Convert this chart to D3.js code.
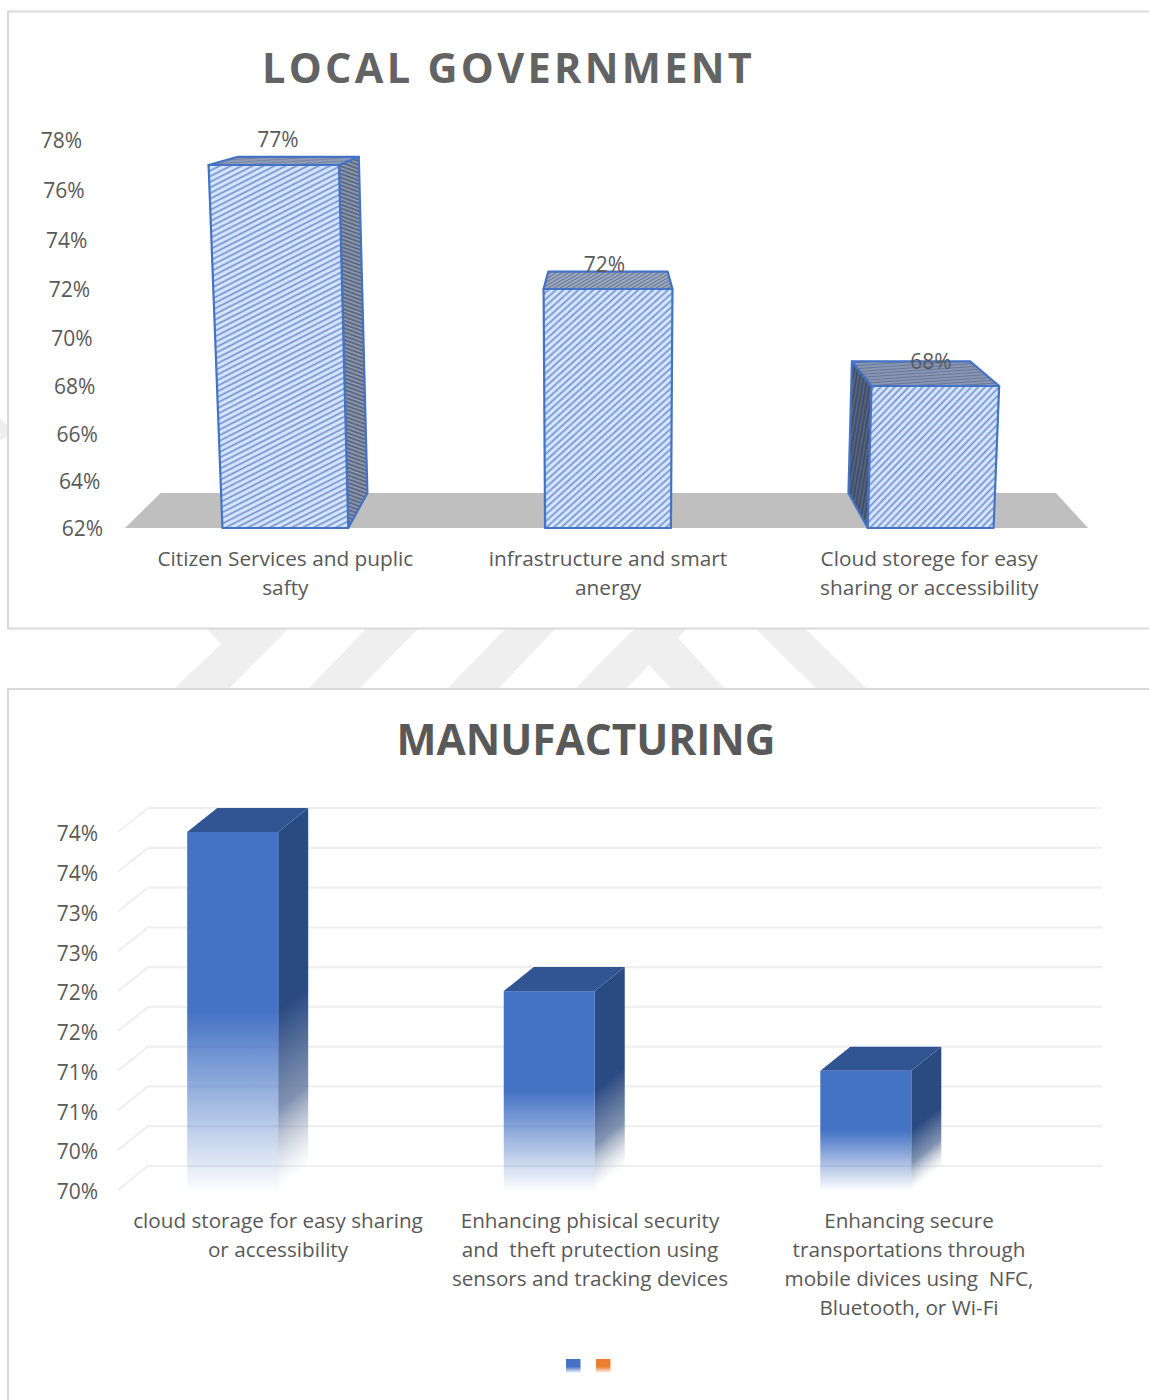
<!DOCTYPE html>
<html>
<head>
<meta charset="utf-8">
<style>
  html, body { margin: 0; padding: 0; background: #fff; }
  svg { display: block; }
  text { font-family: "Open Sans", sans-serif; fill: #595959; white-space: pre; }
</style>
<script src="https://cdn.jsdelivr.net/npm/d3@7"></script>
</head>
<body>
<svg id="page" width="1149" height="1400"></svg>
<script>
// Local government panel
const govCategories = [
  ["Citizen Services and puplic", "safty"],
  ["infrastructure and smart", "anergy"],
  ["Cloud storege for easy", "sharing or accessibility"]
];
const govValues = [77, 72, 68];
const govTicks = [62, 64, 66, 68, 70, 72, 74, 76, 78];

// Manufacturing panel
const mfgCategories = [
  ["cloud storage for easy sharing", "or accessibility"],
  ["Enhancing phisical security", "and  theft prutection using", "sensors and tracking devices"],
  ["Enhancing secure", "transportations through", "mobile divices using  NFC,", "Bluetooth, or Wi-Fi"]
];
const mfgValues = [74.4, 72.4, 71.4];
const mfgTicks = [69.9, 70.4, 70.9, 71.4, 71.9, 72.4, 72.9, 73.4, 73.9, 74.4];

const legendColors = ["#4472c4", "#ed7d31"];

const svg = d3.select("#page");
const defs = svg.append("defs");
const pts = a => a.map(p => p.join(",")).join(" ");

/* Page background motif showing between the two panels */
const motif = svg.append("g").attr("fill", "#efefef");
[
  [[207,629],[288,629],[229,689],[174,689],[221,644]],
  [[366,629],[418,629],[359,689],[308,689]],
  [[505,629],[555,629],[498,689],[447,689]],
  [[634,629],[686,629],[678,638],[725,689],[672,689],[649,665],[626,689],[575,689]],
  [[756,629],[806,629],[867,689],[817,689]],
  [[0,418],[8,426],[8,436],[0,440]]
].forEach(p => motif.append("polygon").attr("points", pts(p)));

/* Panel cards */
svg.append("rect").attr("x", 8).attr("y", 11.5).attr("width", 1200).attr("height", 617)
  .attr("fill", "#fff").attr("stroke", "#d9d9d9").attr("stroke-width", 2);
svg.append("rect").attr("x", 8).attr("y", 689).attr("width", 1200).attr("height", 800)
  .attr("fill", "#fff").attr("stroke", "#d9d9d9").attr("stroke-width", 2);

function hatch(id, bg, ink, angle, gap, width) {
  const p = defs.append("pattern").attr("id", id).attr("patternUnits", "userSpaceOnUse")
    .attr("width", 12).attr("height", gap)
    .attr("patternTransform", `rotate(${-angle})`);
  p.append("rect").attr("width", 12).attr("height", gap).attr("fill", bg);
  p.append("rect").attr("width", 12).attr("y", (gap - width) / 2).attr("height", width).attr("fill", ink);
}

/* ---------- Local government: hatched perspective columns ---------- */
const gov = svg.append("g");
gov.append("text").attr("x", 508.5).attr("y", 83).attr("text-anchor", "middle")
  .attr("font-size", 41.5).attr("font-weight", 700).attr("letter-spacing", 3.3)
  .style("fill", "#636363").text("LOCAL GOVERNMENT");

// The value axis is foreshortened by the perspective, so its spacing widens upward.
const govY = d3.scaleLinear().domain(govTicks)
  .range([528, 481, 434, 386, 338, 289, 240, 190, 140]);
const govX = d3.scaleBand().domain(d3.range(3)).range([124, 1092])
  .paddingInner(0.61).paddingOuter(0.305);
const vanish = [607, 54], depth = 0.926;

const toBack = ([x, y]) => [vanish[0] + (x - vanish[0]) * depth, vanish[1] + (y - vanish[1]) * depth];
// Column edges lean outward with height, around the centre of the plot.
const lean = (x, v) => vanish[0] + (x - vanish[0]) * (1 + 0.0024 * (v - govTicks[0]));

const floorFront = [[govX.range()[0] + 1, govY(62)], [govX.range()[1] - 4, govY(62)]];
gov.append("polygon").attr("fill", "#bfbfbf")
  .attr("points", pts([floorFront[0], floorFront[1], [1056, toBack(floorFront[1])[1]], toBack(floorFront[0])]));

const govAngles = [27, 42, 46];
const sideInk = ["#8f9bb2", "#6c7a96", "#3d4b66"];
const sideBg = ["#5c6983", "#4d5a75", "#56637e"];
const topBg = ["#939fba", "#a3afc6", "#8b99b6"];
const topInk = ["#76849f", "#66748f", "#6a7896"];
govValues.forEach((v, i) => {
  hatch(`gov-front-${i}`, "#dbe8fb", "#6a8fd3", govAngles[i], 5, 1.7);
  hatch(`gov-side-${i}`, sideBg[i], sideInk[i], i === 0 ? -20 : 80, 3.6, 1.6);
  hatch(`gov-top-${i}`, topBg[i], topInk[i], i === 1 ? 30 : 4, 3, 1.2);
});

govValues.forEach((v, i) => {
  const x0 = govX(i), x1 = x0 + govX.bandwidth();
  const base = govTicks[0];
  const fl = [lean(x0, v), govY(v)], fr = [lean(x1, v), govY(v)];
  const bl = [x0, govY(base)], br = [x1, govY(base)];
  const g = gov.append("g").attr("stroke", "#4472c4").attr("stroke-width", 2.2).attr("stroke-linejoin", "round");
  if (x1 < vanish[0] - 100) {
    g.append("polygon").attr("fill", `url(#gov-side-${i})`)
      .attr("points", pts([fr, toBack(fr), toBack(br), br]));
  } else if (x0 > vanish[0] + 100) {
    g.append("polygon").attr("fill", `url(#gov-side-${i})`)
      .attr("points", pts([fl, toBack(fl), toBack(bl), bl]));
  }
  g.append("polygon").attr("fill", `url(#gov-top-${i})`)
    .attr("points", pts([fl, fr, toBack(fr), toBack(fl)]));
  g.append("polygon").attr("fill", `url(#gov-front-${i})`)
    .attr("points", pts([fl, fr, br, bl]));
});

const govAxis = gov.append("g").attr("transform", "translate(103,1)")
  .call(d3.axisLeft(govY).tickValues(govTicks).tickSize(0).tickPadding(0).tickFormat(d => d + "%"));
govAxis.select(".domain").remove();
govAxis.selectAll("text").attr("font-size", 21).attr("font-family", '"Open Sans", sans-serif')
  .attr("fill", "#595959")
  .attr("x", d => -(govY(62) - govY(d)) * 21 / 388);

const govLabelX = d3.scalePoint().domain(d3.range(3)).range([278, 931]);
gov.selectAll("text.value").data(govValues).join("text").attr("class", "value")
  .attr("x", (d, i) => govLabelX(i)).attr("y", d => govY(d) - 24 + (d === 77 ? 6 : 7))
  .attr("text-anchor", "middle").attr("font-size", 21).text(d => d + "%");

const govCatX = i => govX(i) + govX.bandwidth() / 2;
govCategories.forEach((lines, i) => {
  lines.forEach((line, k) => {
    gov.append("text").attr("x", govCatX(i) + (i === 2 ? -1.5 : 0)).attr("y", 566 + k * 29)
      .attr("text-anchor", "middle").attr("font-size", 20.8).text(line);
  });
});

/* ---------- Manufacturing: solid columns fading into the floor ---------- */
const mfg = svg.append("g");
mfg.append("text").attr("x", 586).attr("y", 755).attr("text-anchor", "middle")
  .attr("font-size", 42.4).attr("font-weight", 700).text("MANUFACTURING");

const mfgY = d3.scaleLinear().domain([mfgTicks[0], mfgTicks[mfgTicks.length - 1]]).range([1190, 832]);
const mfgX = d3.scaleBand().domain(d3.range(3)).range([74.5, 1024])
  .paddingInner(0.7125).paddingOuter(0.356);
const offX = 30, offY = -24;

// Receding gridlines along the side wall and across the back wall
const grid = mfg.append("g").attr("fill", "none").attr("stroke", "#efefef").attr("stroke-width", 2.2);
mfgTicks.forEach(t => {
  const y = mfgY(t);
  grid.append("polyline").attr("points", pts([[118, y], [118 + offX, y + offY], [1102, y + offY]]));
});

function fade(id, color, stop) {
  const g = defs.append("linearGradient").attr("id", id).attr("x1", 0).attr("y1", 0).attr("x2", 0).attr("y2", 1);
  g.append("stop").attr("offset", stop).attr("stop-color", color);
  g.append("stop").attr("offset", 0.999).attr("stop-color", color).attr("stop-opacity", 0.02);
}
fade("mfg-front", "#4472c4", 0.5);

// The side face fades along lines parallel to its slanted lower edge.
function sideFade(id, x, yStart, yEnd) {
  const len = offX * offX + offY * offY;
  const t = (yEnd - yStart) * offX / len;
  const g = defs.append("linearGradient").attr("id", id).attr("gradientUnits", "userSpaceOnUse")
    .attr("x1", x).attr("y1", yStart)
    .attr("x2", x - offY * t).attr("y2", yStart + offX * t);
  g.append("stop").attr("offset", 0).attr("stop-color", "#2a4a82");
  g.append("stop").attr("offset", 0.55).attr("stop-color", "#6a7fa3").attr("stop-opacity", 0.85);
  g.append("stop").attr("offset", 1).attr("stop-color", "#b8c0cc").attr("stop-opacity", 0);
}

mfgValues.forEach((v, i) => {
  const x0 = mfgX(i), x1 = x0 + mfgX.bandwidth();
  const yt = mfgY(v), yb = mfgY(mfgTicks[0]);
  sideFade(`mfg-side-${i}`, x1, (yt + yb) / 2, yb);
  mfg.append("polygon").attr("fill", `url(#mfg-side-${i})`)
    .attr("points", pts([[x1, yt], [x1 + offX, yt + offY], [x1 + offX, yb + offY], [x1, yb]]));
  mfg.append("polygon").attr("fill", "#315592")
    .attr("points", pts([[x0, yt], [x1, yt], [x1 + offX, yt + offY], [x0 + offX, yt + offY]]));
  mfg.append("rect").attr("x", x0).attr("y", yt).attr("width", x1 - x0).attr("height", yb - yt)
    .attr("fill", "url(#mfg-front)");
});

const mfgAxis = mfg.append("g").attr("transform", "translate(98,2)")
  .call(d3.axisLeft(mfgY).tickValues(mfgTicks).tickSize(0).tickPadding(0)
    .tickFormat(d => d3.format(".0f")(d) + "%"));
mfgAxis.select(".domain").remove();
mfgAxis.selectAll("text").attr("font-size", 21).attr("font-family", '"Open Sans", sans-serif')
  .attr("fill", "#595959");

const mfgCatX = d3.scalePoint().domain(d3.range(3)).range([278, 909]);
const mfgCatNudge = [0, -3.5, 0];
mfgCategories.forEach((lines, i) => {
  lines.forEach((line, k) => {
    mfg.append("text").attr("x", mfgCatX(i) + mfgCatNudge[i]).attr("y", 1228 + k * 29.1)
      .attr("text-anchor", "middle").attr("font-size", 20.7).text(line);
  });
});

/* Legend swatches */
const legendX = d3.scalePoint().domain(d3.range(2)).range([566, 596]);
legendColors.forEach((c, i) => {
  fade(`legend-${i}`, c, 0.55);
  mfg.append("rect").attr("x", legendX(i)).attr("y", 1359).attr("width", 14.5).attr("height", 14)
    .attr("fill", `url(#legend-${i})`);
});
</script>
</body>
</html>
